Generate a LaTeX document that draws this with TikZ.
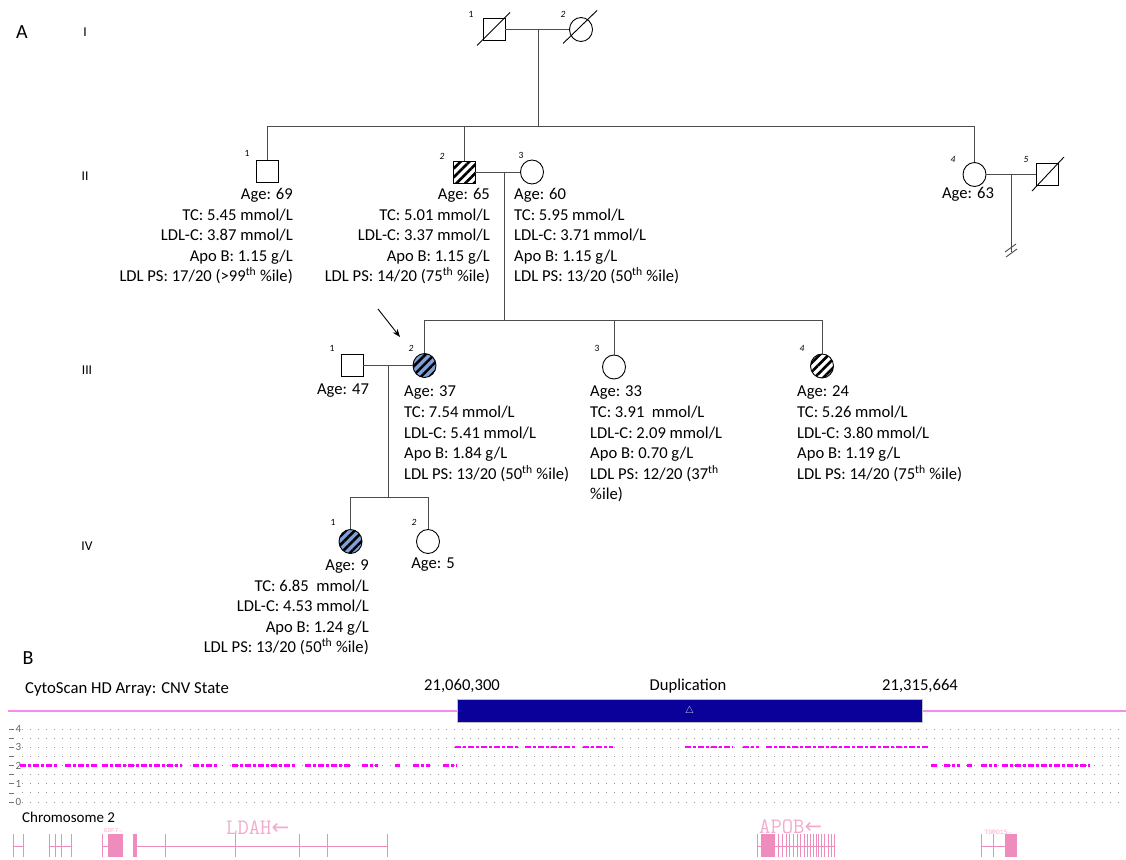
\documentclass[tikz,border=0pt]{standalone}
\usepackage{fontspec}
\setmainfont{Carlito}
\newfontfamily\genefont{Liberation Mono}
\newfontfamily\arrowfont{DejaVu Sans}
\usepackage{tikz}
\usetikzlibrary{arrows.meta, calc, positioning, patterns.meta, shapes.geometric}
\usepackage{xcolor}
\definecolor{hatchblue}{RGB}{128,160,216}
\definecolor{cnvpink}{RGB}{245,140,240}
\definecolor{dupblue}{RGB}{10,0,154}
\definecolor{callmag}{RGB}{255,0,255}
\definecolor{genepink}{RGB}{238,140,190}
\definecolor{genelabel}{RGB}{245,170,205}
\definecolor{dotgrey}{RGB}{150,150,150}

\begin{document}
\begin{tikzpicture}[x=1pt, y=-1pt,
    every node/.style={font=\fontsize{16.6}{20.6}\selectfont, inner sep=0pt},
    ped/.style={line width=0.9pt, draw=black},
    male/.style={ped, rectangle, minimum size=22pt},
    female/.style={ped, ellipse, minimum width=23pt, minimum height=24pt},
    stripes/.style={postaction={pattern={Lines[angle=45, distance=6.2pt, line width=2.6pt]}}},
    carrier/.style={fill=hatchblue, stripes},
    link/.style={line width=0.9pt, black!70},
    idnum/.style={font=\fontsize{9.5}{10}\selectfont},
    info/.style={align=right, anchor=north east},
    infol/.style={align=left, anchor=north west},
    gen/.style={font=\fontsize{13.5}{15}\selectfont},
    gene/.style={genepink, line width=0.9pt},
    genetxt/.style={text=genelabel, font=\ttfamily\fontsize{22}{22}\selectfont}]
    \useasboundingbox (0,0) rectangle (1126,859);

    % 标签
    \node[font=\fontsize{20}{20}\selectfont] (panA) at (22,32) {A};
    \node[gen] (gI) at (85,32) {I};
    \node[gen] (gII) at (85,176) {II};
    \node[gen] (gIII) at (87,370) {III};
    \node[gen] (gIV) at (87,546) {IV};

    % 第一代
    \node[male] (i1) at (494,29.5) {};
    \node[female] (i2) at (581,29.5) {};
    \draw[ped] ($(i1)+(-17,16)$) -- ($(i1)+(16,-17)$);
    \draw[ped] ($(i2)+(-18,14)$) -- ($(i2)+(16,-19)$);
    \node[idnum] (i1n) at (471,14) {1};
    \node[idnum] (i2n) at (563,14) {\itshape 2};
    \draw[link] (i1) -- (i2);
    \coordinate (i12) at (538,29.5);
    \coordinate (sib2) at (538,126);
    \draw[link] (i12) -- (sib2);

    % 第二代
    \node[male] (ii1) at (267.5,171) {};
    \node[male, stripes] (ii2) at (464,172) {};
    \node[female] (ii3) at (532,172) {};
    \node[female] (ii4) at (974.5,174.5) {};
    \node[male] (ii5) at (1047.5,174.5) {};
    \draw[ped] ($(ii5)+(-15.5,16.5)$) -- ($(ii5)+(16.5,-17.5)$);
    \draw[link] (ii1 |- sib2) -- (ii4 |- sib2);
    \draw[link] (ii1) -- (ii1 |- sib2);
    \draw[link] (ii2) -- (ii2 |- sib2);
    \draw[link] (ii4) -- (ii4 |- sib2);
    \draw[link] (ii2) -- (ii3);
    \draw[link] (ii4) -- (ii5);
    \node[idnum] (ii1n) at (247,153) {1};
    \node[idnum] (ii2n) at (442,156) {\itshape 2};
    \node[idnum] (ii3n) at (521,155) {3};
    \node[idnum] (ii4n) at (953,159) {\itshape 4};
    \node[idnum] (ii5n) at (1026,159) {\itshape 5};

    \node[info] (ii1info) at (293,188) {Age: 69\\TC: 5.45 mmol/L\\LDL-C: 3.87 mmol/L\\Apo B: 1.15 g/L\\LDL PS: 17/20 (>99\textsuperscript{th} \%ile)};
    \node[info] (ii2info) at (490,188) {Age: 65\\TC: 5.01 mmol/L\\LDL-C: 3.37 mmol/L\\Apo B: 1.15 g/L\\LDL PS: 14/20 (75\textsuperscript{th} \%ile)};
    \node[infol] (ii3info) at (514,188) {Age: 60\\TC: 5.95 mmol/L\\LDL-C: 3.71 mmol/L\\Apo B: 1.15 g/L\\LDL PS: 13/20 (50\textsuperscript{th} \%ile)};
    \node (ii4info) at (968,194) {Age: 63};

    % 无后代
    \coordinate (ii45) at (1011,174.5);
    \coordinate (ii45end) at (1011,252);
    \draw[link] (ii45) -- (ii45end);
    \draw[link] (1005,252) -- (1016,244);
    \draw[link] (1006,257) -- (1017,249);

    % 第三代
    \coordinate (ii23) at (504,172);
    \coordinate (sib3) at (504,320);
    \draw[link] (ii23) -- (sib3);
    \node[male] (iii1) at (352,365.5) {};
    \node[female, carrier] (iii2) at (424.5,365.5) {};
    \node[female] (iii3) at (614,367) {};
    \node[female, stripes] (iii4) at (822,366) {};
    \draw[link] (iii2 |- sib3) -- (iii4 |- sib3);
    \draw[link] (iii2) -- (iii2 |- sib3);
    \draw[link] (iii3) -- (iii3 |- sib3);
    \draw[link] (iii4) -- (iii4 |- sib3);
    \draw[link] (iii1) -- (iii2);
    \node[idnum] (iii1n) at (332,348) {1};
    \node[idnum] (iii2n) at (411,348) {\itshape 2};
    \node[idnum] (iii3n) at (597,348) {3};
    \node[idnum] (iii4n) at (802,348) {\itshape 4};

    % 先证者
    \coordinate (proband) at (378,309);
    \coordinate (probtip) at (400,337);
    \draw[-{Stealth[length=8pt, width=6pt]}, line width=0.9pt] (proband) -- (probtip);

    \node (iii1info) at (343,391) {Age: 47};
    \node[infol] (iii2info) at (404,386) {Age: 37\\TC: 7.54 mmol/L\\LDL-C: 5.41 mmol/L\\Apo B: 1.84 g/L\\LDL PS: 13/20 (50\textsuperscript{th} \%ile)};
    \node[infol] (iii3info) at (590,386) {Age: 33\\TC: 3.91\ \ mmol/L\\LDL-C: 2.09 mmol/L\\Apo B: 0.70 g/L\\LDL PS: 12/20 (37\textsuperscript{th}\\\%ile)};
    \node[infol] (iii4info) at (797,386) {Age: 24\\TC: 5.26 mmol/L\\LDL-C: 3.80 mmol/L\\Apo B: 1.19 g/L\\LDL PS: 14/20 (75\textsuperscript{th} \%ile)};

    % 第四代
    \coordinate (iii12) at (388,365.5);
    \coordinate (sib4) at (388,497);
    \draw[link] (iii12) -- (sib4);
    \node[female, carrier] (iv1) at (350.5,541.5) {};
    \node[female] (iv2) at (428,541.5) {};
    \draw[link] (iv1 |- sib4) -- (iv2 |- sib4);
    \draw[link] (iv1) -- (iv1 |- sib4);
    \draw[link] (iv2) -- (iv2 |- sib4);
    \node[idnum] (iv1n) at (333,522) {1};
    \node[idnum] (iv2n) at (414,522) {\itshape 2};
    \node[info] (iv1info) at (369,559.5) {Age: 9\\TC: 6.85\ \ mmol/L\\LDL-C: 4.53 mmol/L\\Apo B: 1.24 g/L\\LDL PS: 13/20 (50\textsuperscript{th} \%ile)};
    \node (iv2info) at (433,565) {Age: 5};

    % B: 拷贝数
    \node[font=\fontsize{20}{20}\selectfont] (panB) at (28,658) {B};
    \node[anchor=west, font=\fontsize{16.7}{19}\selectfont] (cnvtitle) at (25,689) {CytoScan HD Array: CNV State};
    \node (startpos) at (462,686) {21,060,300};
    \node (duptxt) at (688,686) {Duplication};
    \node (endpos) at (920,686) {21,315,664};
    \draw[cnvpink, line width=1.5pt] (8,711) -- (1126,711);
    \node[draw=black!25, line width=0.8pt, fill=dupblue, minimum width=465pt, minimum height=23pt] (dupbox) at (689.5,710.5) {};
    \node[font=\fontsize{10}{10}\selectfont, text=white!80!gray] (dupmark) at (dupbox) {$\triangle$};

    \foreach \k in {0,...,8} {
        \draw[dotgrey, line width=1pt, dash pattern=on 1pt off 7pt] (22,729+9.125*\k) -- (1126,729+9.125*\k);
        \draw[black!55, line width=0.6pt] (9,729+9.125*\k) -- (14,729+9.125*\k);
    }
    \foreach \k/\v in {0/4, 2/3, 4/2, 6/1, 8/0}
        \node[font=\fontsize{11}{11}\selectfont, text=black!60] at (18.5,729+9.125*\k) {\v};

    \foreach \a/\b in {20/58, 65/97, 102/182, 193/218, 232/295, 305/350, 362/378, 395/400, 413/430, 443/457, 931/937, 944/960, 967/972, 981/997, 1002/1090}
        \draw[callmag, line width=2.4pt, dash pattern=on 6pt off 2pt on 3pt off 2pt] (\a,765.5) -- (\b,765.5);
    \foreach \a/\b in {455/518, 525/576, 583/613, 685/733, 743/759, 766/928}
        \draw[callmag, line width=2.4pt, dash pattern=on 6pt off 2pt on 3pt off 2pt] (\a,747.25) -- (\b,747.25);

    % 基因
    \node[anchor=west, font=\fontsize{15}{18}\selectfont] (chrom) at (22,817) {Chromosome 2};
    \foreach \a/\b in {13/23, 49/71, 102/108, 137/387, 757/834, 981/1005}
        \draw[gene] (\a,846) -- (\b,846);
    \foreach \x in {13, 23, 49, 55, 61, 71, 102, 165, 235, 299, 327, 387, 757, 778, 782, 786, 789, 793, 797, 800, 804, 807, 810, 813, 816, 818, 821, 824, 828, 831, 834, 981, 993}
        \draw[gene] (\x,834) -- (\x,857);
    \fill[genepink] (108,834) rectangle (123,857);
    \fill[genepink] (133,834) rectangle (137,857);
    \fill[genepink] (761,834) rectangle (775,857);
    \fill[genepink] (1005,834) rectangle (1017,857);
    \node[genetxt, anchor=west] (ldah) at (226,828) {LDAH{\arrowfont\fontsize{21}{21}\selectfont ←}};
    \node[genetxt, anchor=west] (apob) at (759,827) {APOB{\arrowfont\fontsize{21}{21}\selectfont ←}};
    \node[font=\genefont\fontsize{6}{6}\selectfont, text=genelabel] (gdf7) at (113,831) {GDF7→};
    \node[font=\genefont\fontsize{6.5}{6.5}\selectfont, text=genelabel] (tdrd) at (998,832) {TDRD15→};
\end{tikzpicture}
\end{document}
